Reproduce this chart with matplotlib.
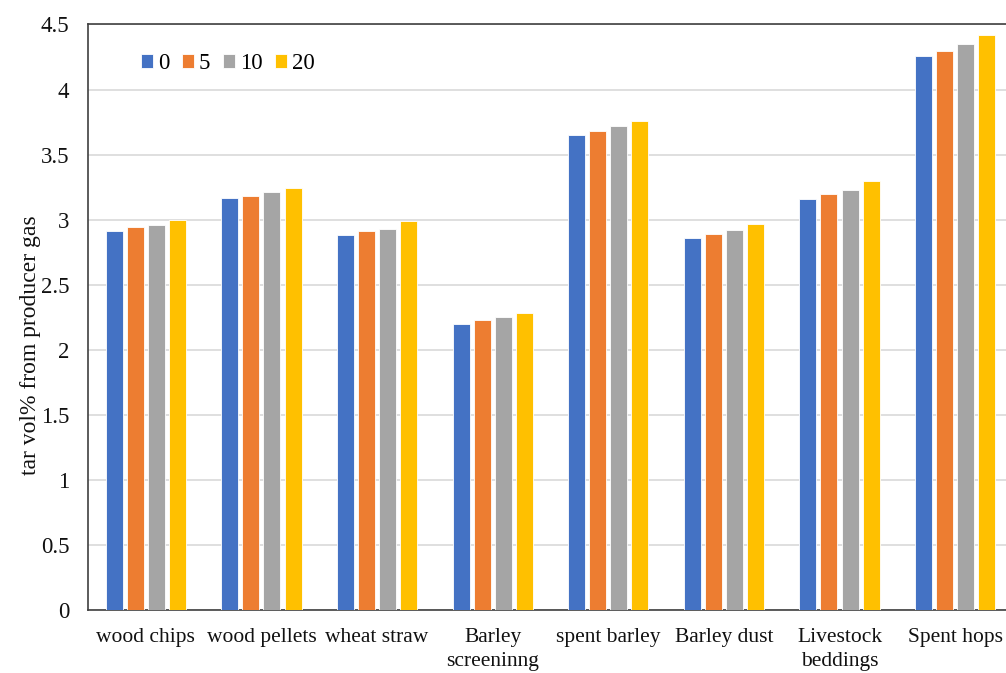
import numpy as np
import matplotlib
matplotlib.use("Agg")
import matplotlib.pyplot as plt

categories = ["wood chips", "wood pellets", "wheat straw", "Barley\nscreeninng",
              "spent barley", "Barley dust", "Livestock\nbeddings", "Spent hops"]
series_names = ["0", "5", "10", "20"]
s0 = [2.91, 3.17, 2.88, 2.20, 3.65, 2.86, 3.16, 4.26]
s5 = [2.94, 3.18, 2.91, 2.23, 3.68, 2.89, 3.20, 4.30]
s10 = [2.96, 3.21, 2.93, 2.25, 3.72, 2.92, 3.23, 4.35]
s20 = [3.00, 3.24, 2.99, 2.28, 3.76, 2.97, 3.30, 4.42]
colors = ["#4472C4", "#ED7D31", "#A5A5A5", "#FFC000"]

plt.rcParams["font.family"] = ["Liberation Serif", "DejaVu Serif"]

fig = plt.figure(figsize=(10.06, 6.73), dpi=100)
ax = fig.add_axes([0.0875, 0.0936, 0.9125, 0.87])

x = np.arange(len(categories))
step = 0.182
width = 0.147
for i, (vals, name) in enumerate(zip([s0, s5, s10, s20], series_names)):
    ax.bar(x + (i - 1.5) * step, vals, width, color=colors[i], label=name,
           edgecolor="white", linewidth=0.6, zorder=3)

ax.set_ylim(0, 4.5)
ax.set_yticks(np.arange(0, 4.51, 0.5))
ax.set_yticklabels(["0", "0.5", "1", "1.5", "2", "2.5", "3", "3.5", "4", "4.5"])
ax.set_xlim(-0.5, 7.44)
ax.set_xticks(x)
ax.set_xticklabels(categories, linespacing=1.35)
ax.tick_params(axis="both", length=0, colors="#111111")
ax.tick_params(axis="y", pad=13.5, labelsize=16.5)
ax.tick_params(axis="x", pad=13, labelsize=15.5)
ax.yaxis.grid(True, color="#D9D9D9", linewidth=1.2, zorder=0)
ax.set_axisbelow(True)

for side in ["left", "bottom", "top"]:
    ax.spines[side].set_color("#404040")
    ax.spines[side].set_linewidth(1.2)
ax.spines["right"].set_visible(False)

ax.set_ylabel("tar vol% from producer gas", fontsize=17, color="#111111")
ax.yaxis.set_label_coords(-0.051, 0.453)

ax.legend(loc="center left", bbox_to_anchor=(0.0577, 0.933), ncol=4, frameon=False,
          fontsize=16.5, handlelength=0.52, handleheight=0.52, handletextpad=0.22,
          columnspacing=0.55, borderpad=0, borderaxespad=0)

fig.savefig("out.png", dpi=100)
